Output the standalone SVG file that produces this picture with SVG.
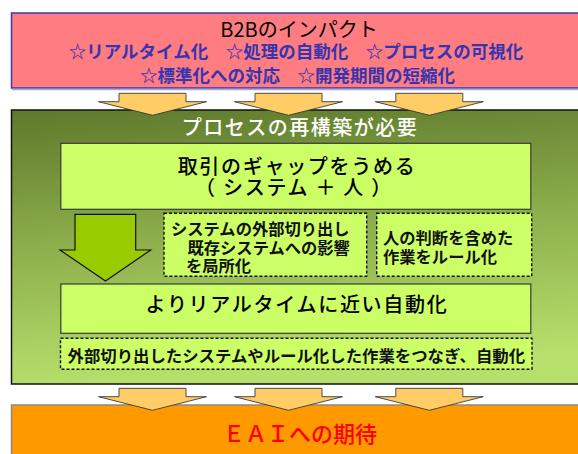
<svg xmlns="http://www.w3.org/2000/svg" width="578" height="454" viewBox="0 0 578 454">
<defs>
<linearGradient id="gGreen" x1="0" y1="0" x2="0.15" y2="1">
<stop offset="0" stop-color="#5E792C"/>
<stop offset="0.5" stop-color="#8DAF4C"/>
<stop offset="1" stop-color="#B7DF6C"/>
</linearGradient>
<path id="arr" d="M-33.5,0 H33.5 V8.4 H54 L0,22 L-54,8.4 H-33.5 Z"/>
</defs>
<style>
text{font-family:"Noto Sans CJK JP","Noto Sans",sans-serif;}
.c{text-anchor:middle;}
.big{font-size:20px;font-weight:500;fill:#000;letter-spacing:1.7px;}
.sm{font-size:16.3px;font-weight:700;fill:#111;}
.blue{font-size:17.5px;font-weight:700;fill:#3535B0;}
.lime{fill:#CCFF66;stroke:#3A3A3A;stroke-width:1.2;}
.dash{fill:#CCFF66;stroke:#111;stroke-width:1.4;stroke-dasharray:3 2;}
.ya{fill:#FFCC66;stroke:#3A3A3A;stroke-width:0.9;}
</style>
<rect width="578" height="454" fill="#FFFFFF"/>
<g id="impact">
<rect x="11.5" y="13" width="580" height="75" fill="#FF7C80" stroke="#3A3AAA" stroke-width="1.5"/>
<line x1="12" y1="89.5" x2="578" y2="89.5" stroke="#A8A8D8" stroke-width="1.5"/>
<text class="c" x="299" y="37" style="font-size:20px;fill:#000">B2Bのインパクト<tspan class="blue" x="296" y="58">☆リアルタイム化　☆処理の自動化　☆プロセスの可視化</tspan><tspan class="blue" x="297.5" y="82">☆標準化への対応　☆開発期間の短縮化</tspan></text>
</g>
<g id="process">
<rect x="11.5" y="110" width="580" height="274" fill="url(#gGreen)" stroke="#111" stroke-width="1.5"/>
<text class="c" x="300" y="135" style="font-size:20px;font-weight:500;fill:#FFFFFF;letter-spacing:1.5px">プロセスの再構築が必要</text>
</g>
<g id="gap">
<rect class="lime" x="60.8" y="143.3" width="470" height="66"/>
<text class="c big" x="297" y="174">取引のギャップをうめる<tspan x="294" y="195">（ システム ＋ 人 ）</tspan></text>
</g>
<g id="external">
<rect class="dash" x="164" y="213.3" width="202.7" height="63"/>
<text class="sm" x="171" y="235">システムの外部切り出し<tspan x="187.5" y="253.5">既存システムへの影響</tspan><tspan x="186" y="272">を局所化</tspan></text>
</g>
<g id="rules">
<rect class="dash" x="376.7" y="213.3" width="155" height="63"/>
<text class="sm" x="383" y="244">人の判断を含めた<tspan x="383" y="262.5">作業をルール化</tspan></text>
</g>
<g id="realtime">
<rect class="lime" x="60.8" y="284" width="470" height="49.3"/>
<text class="c big" x="297" y="312">よりリアルタイムに近い自動化</text>
</g>
<g id="connect">
<rect class="dash" x="60.5" y="338.3" width="471.5" height="31"/>
<text class="sm" x="67.5" y="362" style="font-size:16.4px">外部切り出したシステムやルール化した作業をつなぎ、自動化</text>
</g>
<g id="eai">
<rect x="11.5" y="405" width="580" height="60" fill="#FF9900" stroke="#8A8A8A" stroke-width="1.5"/>
<text class="c" x="300" y="442" style="font-size:22px;font-weight:500;fill:#FF0000">ＥＡＩへの期待</text>
</g>
<g id="connectors">
<use href="#arr" class="ya" x="152.5" y="93.3"/>
<use href="#arr" class="ya" x="288.5" y="93.3"/>
<use href="#arr" class="ya" x="429.3" y="93.3"/>
<use href="#arr" class="ya" x="152.5" y="388.3"/>
<use href="#arr" class="ya" x="288.5" y="388.3"/>
<use href="#arr" class="ya" x="429.3" y="388.3"/>
<path d="M75,214.3 H135.7 V250 H150.7 L105.5,281 L60,250 H75 Z" fill="#99CC00" stroke="#111" stroke-width="1.2"/>
</g>
</svg>
